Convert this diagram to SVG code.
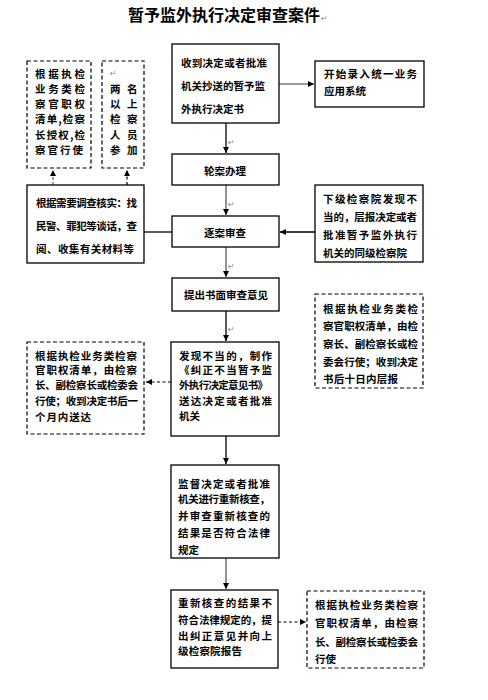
<svg xmlns="http://www.w3.org/2000/svg" width="488" height="700" viewBox="0 0 488 700">
<defs>
<style>
.bg{fill:#fff}
.box{fill:#fff;stroke:#000;stroke-width:1.3}
.dbox{fill:#fff;stroke:#000;stroke-width:1.2;stroke-dasharray:4,2.5}
.t{font-family:"Noto Sans CJK SC","Noto Sans",sans-serif;font-size:10.5px;font-weight:bold;fill:#000;dominant-baseline:central}
.title{font-family:"Noto Sans CJK SC","Noto Sans",sans-serif;font-size:16px;font-weight:bold;fill:#000}
.pm{font-family:"DejaVu Sans",sans-serif;font-size:8px;fill:#888}
.c{stroke:#000;stroke-width:1.3;fill:none}
.cg{stroke:#777;stroke-width:1.6;fill:none}
.cd{stroke:#000;stroke-width:1.2;fill:none;stroke-dasharray:3,2.5}
.cdg{stroke:#888;stroke-width:1.6;fill:none;stroke-dasharray:3,2}
</style>
<marker id="ah" markerWidth="7" markerHeight="6" refX="6" refY="3" orient="auto" markerUnits="userSpaceOnUse">
<path d="M0,0 L6,3 L0,6 Z" fill="#000"/>
</marker>
</defs>
<rect class="bg" x="0" y="0" width="488" height="700"/>
<text class="title" x="128" y="21">暂予监外执行决定审查案件</text>
<text class="pm" x="321" y="21">↵</text>

<g id="connectors">
<line class="cg" x1="279" y1="84" x2="314" y2="84" marker-end="url(#ah)"/>
<line class="c" x1="226" y1="123" x2="226" y2="153" marker-end="url(#ah)"/>
<line class="cg" x1="226" y1="185" x2="226" y2="215" marker-end="url(#ah)"/>
<line class="c" x1="315" y1="232" x2="280" y2="232" marker-end="url(#ah)"/>
<line class="c" x1="144" y1="232" x2="172" y2="232"/>
<line class="cdg" x1="53" y1="185" x2="53" y2="170" marker-end="url(#ah)"/>
<line class="cd" x1="127" y1="185" x2="127" y2="170" marker-end="url(#ah)"/>
<line class="cg" x1="226" y1="247" x2="226" y2="277" marker-end="url(#ah)"/>
<line class="c" x1="226" y1="311" x2="226" y2="341" marker-end="url(#ah)"/>
<line class="cd" x1="171" y1="382" x2="146" y2="382" marker-end="url(#ah)"/>
<line class="c" x1="226" y1="436" x2="226" y2="464" marker-end="url(#ah)"/>
<line class="cg" x1="226" y1="558" x2="226" y2="589" marker-end="url(#ah)"/>
<line class="cd" x1="278" y1="622" x2="306" y2="622" marker-end="url(#ah)"/>
<text class="pm" x="228" y="145">↵</text>
<text class="pm" x="228" y="207">↵</text>
<text class="pm" x="228" y="269">↵</text>
<text class="pm" x="228" y="332">↵</text>
</g>

<g id="n-receive">
<rect class="box" x="172" y="44" width="107" height="79"/>
<text class="t" x="181" y="62" textLength="86" lengthAdjust="spacing">收到决定或者批准</text>
<text class="t" x="181" y="85" textLength="84" lengthAdjust="spacing">机关抄送的暂予监</text>
<text class="t" x="181" y="108">外执行决定书</text>
</g>

<g id="n-system">
<rect class="box" x="315" y="61" width="109" height="46"/>
<text class="t" x="324" y="73" textLength="93" lengthAdjust="spacing">开始录入统一业务</text>
<text class="t" x="324" y="90">应用系统</text>
</g>

<g id="n-assign">
<rect class="box" x="172" y="154" width="107" height="31"/>
<text class="t" x="204" y="170">轮案办理</text>
</g>

<g id="n-review">
<rect class="box" x="172" y="216" width="107" height="31"/>
<text class="t" x="204" y="232">逐案审查</text>
</g>

<g id="n-investigate">
<rect class="box" x="27" y="185" width="117" height="78"/>
<text class="t" x="36" y="202" textLength="101" lengthAdjust="spacing">根据需要调查核实：找</text>
<text class="t" x="36" y="225" textLength="101" lengthAdjust="spacing">民警、罪犯等谈话，查</text>
<text class="t" x="36" y="248" textLength="98" lengthAdjust="spacing">阅、收集有关材料等</text>
</g>

<g id="n-authority1">
<rect class="dbox" x="27" y="61" width="64" height="107"/>
<text class="t" x="35" y="73" textLength="50" lengthAdjust="spacing">根据执检</text>
<text class="t" x="35" y="88" textLength="50" lengthAdjust="spacing">业务类检</text>
<text class="t" x="35" y="103" textLength="50" lengthAdjust="spacing">察官职权</text>
<text class="t" x="35" y="118" textLength="50" lengthAdjust="spacing">清单,检察</text>
<text class="t" x="35" y="134" textLength="50" lengthAdjust="spacing">长授权,检</text>
<text class="t" x="35" y="149" textLength="48" lengthAdjust="spacing">察官行使</text>
</g>

<g id="n-persons">
<rect class="dbox" x="102" y="61" width="42" height="107"/>
<text class="pm" x="110" y="76">↵</text>
<text class="t" x="110" y="88">两</text><text class="t" x="127" y="88">名</text>
<text class="t" x="110" y="103">以</text><text class="t" x="127" y="103">上</text>
<text class="t" x="110" y="118">检</text><text class="t" x="127" y="118">察</text>
<text class="t" x="110" y="134">人</text><text class="t" x="127" y="134">员</text>
<text class="t" x="110" y="149">参</text><text class="t" x="127" y="149">加</text>
</g>

<g id="n-lower">
<rect class="box" x="315" y="185" width="108" height="77"/>
<text class="t" x="323" y="198" textLength="94" lengthAdjust="spacing">下级检察院发现不</text>
<text class="t" x="323" y="216" textLength="94" lengthAdjust="spacing">当的，层报决定或者</text>
<text class="t" x="323" y="234" textLength="94" lengthAdjust="spacing">批准暂予监外执行</text>
<text class="t" x="323" y="252">机关的同级检察院</text>
</g>

<g id="n-report10">
<rect class="dbox" x="315" y="294" width="108" height="94"/>
<text class="t" x="323" y="308" textLength="95" lengthAdjust="spacing">根据执检业务类检</text>
<text class="t" x="323" y="325" textLength="95" lengthAdjust="spacing">察官职权清单，由检</text>
<text class="t" x="323" y="343" textLength="95" lengthAdjust="spacing">察长、副检察长或检</text>
<text class="t" x="323" y="361" textLength="95" lengthAdjust="spacing">委会行使；收到决定</text>
<text class="t" x="323" y="378" textLength="75" lengthAdjust="spacing">书后十日内层报</text>
</g>

<g id="n-opinion">
<rect class="box" x="172" y="278" width="107" height="33"/>
<text class="t" x="184" y="294" textLength="84" lengthAdjust="spacing">提出书面审查意见</text>
</g>

<g id="n-correct">
<rect class="box" x="171" y="342" width="108" height="94"/>
<text class="t" x="179" y="355" textLength="93" lengthAdjust="spacing">发现不当的，制作</text>
<text class="t" x="179" y="369" textLength="93" lengthAdjust="spacing">《纠正不当暂予监</text>
<text class="t" x="179" y="384" textLength="89" lengthAdjust="spacing">外执行决定意见书》</text>
<text class="t" x="179" y="400" textLength="93" lengthAdjust="spacing">送达决定或者批准</text>
<text class="t" x="179" y="415">机关</text>
</g>

<g id="n-month">
<rect class="dbox" x="27" y="342" width="117" height="92"/>
<text class="t" x="35" y="355" textLength="102" lengthAdjust="spacing">根据执检业务类检察</text>
<text class="t" x="35" y="369" textLength="102" lengthAdjust="spacing">官职权清单，由检察</text>
<text class="t" x="35" y="384" textLength="103" lengthAdjust="spacing">长、副检察长或检委会</text>
<text class="t" x="35" y="400" textLength="103" lengthAdjust="spacing">行使；收到决定书后一</text>
<text class="t" x="35" y="416" textLength="56" lengthAdjust="spacing">个月内送达</text>
</g>

<g id="n-recheck">
<rect class="box" x="171" y="465" width="108" height="93"/>
<text class="t" x="178" y="483" textLength="92" lengthAdjust="spacing">监督决定或者批准</text>
<text class="t" x="178" y="498" textLength="92" lengthAdjust="spacing">机关进行重新核查，</text>
<text class="t" x="178" y="515" textLength="92" lengthAdjust="spacing">并审查重新核查的</text>
<text class="t" x="178" y="532" textLength="92" lengthAdjust="spacing">结果是否符合法律</text>
<text class="t" x="178" y="549">规定</text>
</g>

<g id="n-result">
<rect class="box" x="171" y="590" width="107" height="78"/>
<text class="t" x="178" y="602" textLength="94" lengthAdjust="spacing">重新核查的结果不</text>
<text class="t" x="178" y="619" textLength="94" lengthAdjust="spacing">符合法律规定的，提</text>
<text class="t" x="178" y="635" textLength="94" lengthAdjust="spacing">出纠正意见并向上</text>
<text class="t" x="178" y="650" textLength="64" lengthAdjust="spacing">级检察院报告</text>
</g>

<g id="n-final">
<rect class="dbox" x="307" y="591" width="117" height="77"/>
<text class="t" x="315" y="604" textLength="103" lengthAdjust="spacing">根据执检业务类检察</text>
<text class="t" x="315" y="622" textLength="103" lengthAdjust="spacing">官职权清单，由检察</text>
<text class="t" x="315" y="641" textLength="103" lengthAdjust="spacing">长、副检察长或检委会</text>
<text class="t" x="315" y="658">行使</text>
</g>
</svg>
